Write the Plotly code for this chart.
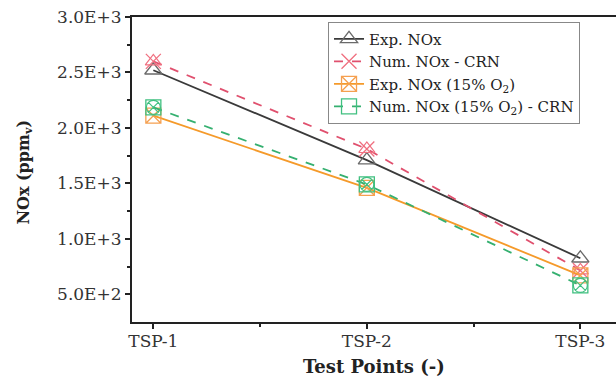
import plotly.graph_objects as go

categories = ["TSP-1", "TSP-2", "TSP-3"]
exp_nox = [2520, 1710, 825]
num_nox_crn = [2600, 1810, 715]
exp_nox_15 = [2110, 1460, 670]
num_nox_15_crn = [2185, 1490, 580]
y_ticks = [500, 1000, 1500, 2000, 2500, 3000]
y_tick_labels = ["5.0E+2", "1.0E+3", "1.5E+3", "2.0E+3", "2.5E+3", "3.0E+3"]

xpos = list(range(len(categories)))

fig = go.Figure()

def add(name, y, color, mcolor, dash, sym, overlay=None):
    fig.add_trace(go.Scatter(
        x=xpos, y=y, name=name, mode="lines+markers",
        line=dict(color=color, width=1.8, dash=dash),
        marker=dict(symbol=sym, size=15, color=mcolor, line=dict(width=1.3, color=mcolor)),
    ))
    if overlay:
        fig.add_trace(go.Scatter(
            x=xpos, y=y, mode="markers", showlegend=False, hoverinfo="skip",
            marker=dict(symbol=overlay, size=14, color=mcolor, line=dict(width=1.2, color=mcolor)),
        ))

add("Exp. NOx", exp_nox, "#3a3a3a", "#6a6a6a", "solid", "triangle-up-open")
add("Num. NOx - CRN", num_nox_crn, "#e0506e", "#f07080", "dash", "x-thin-open", "triangle-up-open")
add("Exp. NOx (15% O<sub>2</sub>)", exp_nox_15, "#f59a2a", "#f5a050", "solid", "square-x-open")
add("Num. NOx (15% O<sub>2</sub>) - CRN", num_nox_15_crn, "#35b070", "#40c080", "dash", "square-open", "circle-x-open")

font = "DejaVu Serif, Liberation Serif, serif"

fig.update_layout(
    width=616, height=379,
    margin=dict(l=132, r=0, t=17, b=57),
    paper_bgcolor="white", plot_bgcolor="white",
    font=dict(family=font, size=16, color="#222"),
    legend=dict(
        x=0.405, y=0.985, xanchor="left", yanchor="top",
        bordercolor="#888", borderwidth=1, bgcolor="white",
        font=dict(family=font, size=15, color="#222"),
        tracegroupgap=0, itemwidth=30,
    ),
    xaxis=dict(
        range=[-0.1, 2.167],
        tickvals=xpos, ticktext=categories,
        showline=True, linecolor="#222", linewidth=2, mirror=True,
        ticks="outside", ticklen=5, tickwidth=1.5, tickcolor="#222",
        minor=dict(tickvals=[0.5, 1.5], ticks="outside", ticklen=3, tickcolor="#222"),
        showgrid=False, zeroline=False,
        ticklabelstandoff=-2,
        tickfont=dict(family=font, size=17, color="#333"),
    ),
    yaxis=dict(
        range=[250, 3000],
        tickvals=y_ticks, ticktext=y_tick_labels,
        showline=True, linecolor="#222", linewidth=2,
        ticks="outside", ticklen=5, tickwidth=1.5, tickcolor="#222",
        minor=dict(tickvals=[750, 1250, 1750, 2250, 2750], ticks="outside", ticklen=3, tickcolor="#222"),
        showgrid=False, zeroline=False,
        tickfont=dict(family=font, size=17, color="#333"),
    ),
    annotations=[
        dict(text="<b>Test Points (-)</b>", xref="paper", yref="paper", x=0.5, y=-0.1475,
             xanchor="center", yanchor="middle", showarrow=False,
             font=dict(family=font, size=18, color="#222")),
        dict(text="<b>NOx (ppm<sub>v</sub>)</b>", xref="paper", yref="paper", x=-0.223, y=0.49,
             xanchor="center", yanchor="middle", textangle=-90, showarrow=False,
             font=dict(family=font, size=16, color="#222")),
    ],
)

fig.write_html("out.html", config={"displayModeBar": False},
               post_script="document.body.style.margin='0';document.body.style.overflow='hidden';")
